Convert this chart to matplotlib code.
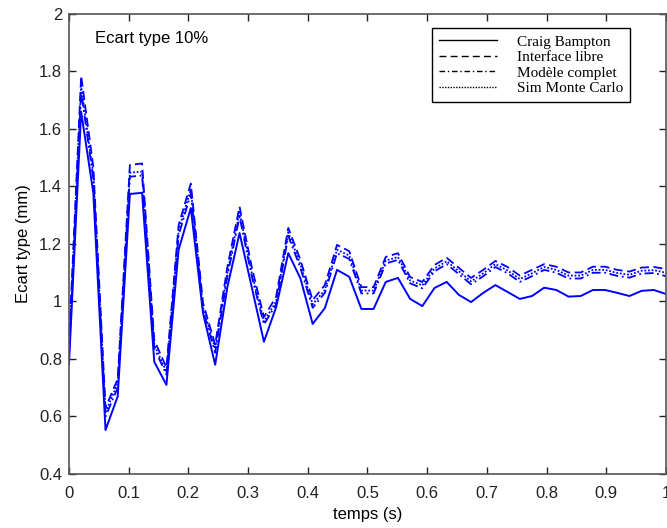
import numpy as np
import matplotlib
matplotlib.use("Agg")
import matplotlib.pyplot as plt
from matplotlib.lines import Line2D

# time grid: 50 samples over 1 s
temps = np.linspace(0, 1, 50)

craig_bampton = [0.78, 1.66, 1.377, 0.553, 0.67, 1.374, 1.378, 0.79, 0.71, 1.18,
                 1.325, 0.96, 0.78, 1.05, 1.238, 1.05, 0.86, 0.98, 1.168, 1.08,
                 0.922, 0.977, 1.11, 1.086, 0.974, 0.974, 1.068, 1.082, 1.009, 0.984,
                 1.047, 1.068, 1.023, 0.998, 1.03, 1.057, 1.033, 1.009, 1.019, 1.048,
                 1.04, 1.017, 1.019, 1.04, 1.04, 1.03, 1.019, 1.037, 1.04, 1.026]

interface_libre = [0.85, 1.785, 1.468, 0.63, 0.73, 1.475, 1.48, 0.866, 0.77, 1.266,
                   1.41, 0.995, 0.85, 1.12, 1.33, 1.12, 0.946, 1.016, 1.256, 1.144,
                   1.005, 1.057, 1.197, 1.175, 1.05, 1.05, 1.155, 1.168, 1.085, 1.068,
                   1.127, 1.152, 1.117, 1.082, 1.11, 1.141, 1.12, 1.09, 1.11, 1.13,
                   1.121, 1.101, 1.101, 1.121, 1.121, 1.11, 1.104, 1.118, 1.12, 1.113]

sim_monte_carlo = [0.83, 1.75, 1.44, 0.615, 0.715, 1.448, 1.452, 0.85, 0.755, 1.245,
                   1.39, 0.98, 0.835, 1.10, 1.31, 1.10, 0.93, 1.0, 1.24, 1.128,
                   0.99, 1.04, 1.18, 1.16, 1.038, 1.038, 1.142, 1.155, 1.073, 1.056,
                   1.115, 1.14, 1.105, 1.07, 1.098, 1.13, 1.108, 1.078, 1.098, 1.12,
                   1.11, 1.09, 1.09, 1.11, 1.11, 1.099, 1.093, 1.107, 1.109, 1.1]

modele_complet = [0.81, 1.73, 1.425, 0.6, 0.70, 1.434, 1.438, 0.838, 0.745, 1.23,
                  1.375, 0.968, 0.822, 1.088, 1.295, 1.088, 0.92, 0.99, 1.228, 1.116,
                  0.978, 1.03, 1.168, 1.148, 1.028, 1.028, 1.132, 1.145, 1.063, 1.046,
                  1.105, 1.13, 1.095, 1.06, 1.088, 1.12, 1.098, 1.068, 1.088, 1.11,
                  1.1, 1.08, 1.08, 1.1, 1.1, 1.089, 1.083, 1.097, 1.099, 1.088]

x_ticks = [0, 0.1, 0.2, 0.3, 0.4, 0.5, 0.6, 0.7, 0.8, 0.9, 1]
x_labels = ['0', '0.1', '0.2', '0.3', '0.4', '0.5', '0.6', '0.7', '0.8', '0.9', '1']
y_ticks = [0.4, 0.6, 0.8, 1.0, 1.2, 1.4, 1.6, 1.8, 2.0]
y_labels = ['0.4', '0.6', '0.8', '1', '1.2', '1.4', '1.6', '1.8', '2']

plt.rcParams['font.family'] = ['Liberation Sans', 'DejaVu Sans']

fig = plt.figure(figsize=(6.67, 5.28), dpi=100)
ax = fig.add_axes([0.1034, 0.1023, 0.8951, 0.8712])

blue = '#0000ff'
ax.plot(temps, craig_bampton, color=blue, lw=1.4, ls='-')
ax.plot(temps, interface_libre, color=blue, lw=1.3, ls=(0, (5, 2.5)))
ax.plot(temps, modele_complet, color=blue, lw=1.3, ls=(0, (5, 2, 1, 2)))
ax.plot(temps, sim_monte_carlo, color=blue, lw=1.3, ls=(0, (1, 1)))

ax.set_xlim(0, 1)
ax.set_ylim(0.4, 2)
ax.set_xticks(x_ticks)
ax.set_xticklabels(x_labels)
ax.set_yticks(y_ticks)
ax.set_yticklabels(y_labels)
ax.tick_params(direction='in', top=True, right=True, length=5, width=1,
               labelsize=12, colors='#222222')
ax.tick_params(axis='x', pad=9)
ax.tick_params(axis='y', pad=5)
for s in ax.spines.values():
    s.set_color('#555555')
    s.set_linewidth(1.2)

ax.set_xlabel('temps (s)', fontsize=12, labelpad=4)
ax.set_ylabel('Ecart type (mm)', fontsize=12, labelpad=6)
ax.text(0.044, 1.915, 'Ecart type 10%', fontsize=12, va='center', ha='left')

handles = [Line2D([], [], color='black', lw=1, ls='-'),
           Line2D([], [], color='black', lw=1, ls=(0, (5, 3))),
           Line2D([], [], color='black', lw=1, ls=(0, (4, 2, 1, 2))),
           Line2D([], [], color='black', lw=1, ls=(0, (1, 1)))]
names = ['Craig Bampton', 'Interface libre', 'Modèle complet', 'Sim Monte Carlo']
leg = ax.legend(handles, names, loc='upper right', bbox_to_anchor=(0.952, 0.986),
                prop={'family': ['Liberation Serif', 'DejaVu Serif'], 'size': 11},
                fancybox=False, edgecolor='black', framealpha=1,
                handlelength=3.8, labelspacing=0.12, borderpad=0.45,
                handletextpad=1.3)
leg.get_frame().set_linewidth(1)

fig.savefig('out.png', dpi=100)
